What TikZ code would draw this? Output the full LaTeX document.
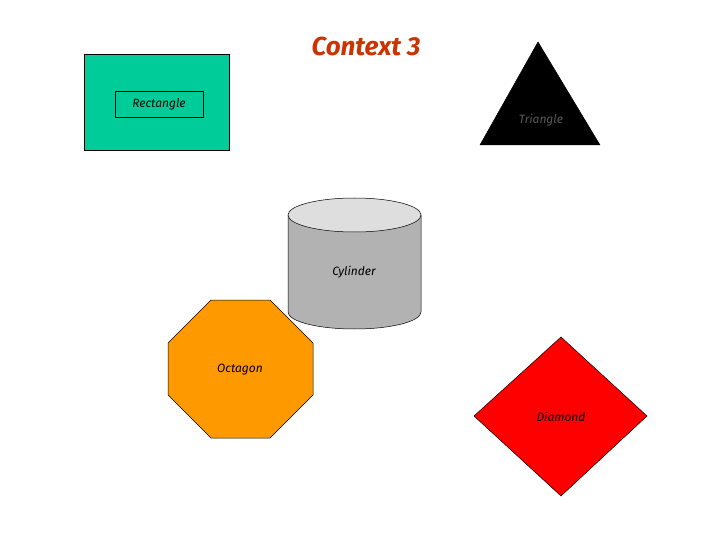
\documentclass[tikz,border=0pt]{standalone}
\usepackage{fontspec}
\setmainfont{Fira Sans}
\begin{document}
\begin{tikzpicture}[x=1pt,y=-1pt,
  lbl/.style={font=\itshape\fontsize{12}{14}\selectfont},
  shp/.style={draw=black,line width=0.5pt}]
\useasboundingbox (0,0) rectangle (720,540);
% title
\node (title)[text={rgb,255:red,204;green,51;blue,0},font=\bfseries\itshape\fontsize{26}{30}\selectfont] at (366,46) {Context 3};
% rectangle
\draw[shp,fill={rgb,255:red,0;green,204;blue,153}] (84,54) rectangle (229,150);
\node (rect)[lbl,shp,fill={rgb,255:red,0;green,204;blue,153},minimum width=88pt,minimum height=26pt,inner sep=0pt] at (159,104) {Rectangle};
% triangle
\draw[shp,fill=black] (538,42) -- (600,145) -- (480,145) -- cycle;
\node (tri)[lbl,text=black!65] at (541,120) {Triangle};
% cylinder
\fill[fill=black!30] (288,215) -- (288,312) arc[start angle=180,end angle=0,x radius=66.5,y radius=17] -- (421,215) -- cycle;
\draw[shp] (288,215) -- (288,312) arc[start angle=180,end angle=0,x radius=66.5,y radius=17] -- (421,215);
\draw[shp,fill=black!13] (354.5,215) ellipse[x radius=66.5,y radius=17];
\node (cyl)[lbl] at (354,272) {Cylinder};
% octagon
\draw[shp,fill={rgb,255:red,255;green,153;blue,0}] (211,300) -- (270,300) -- (313,343) -- (313,395) -- (270,438) -- (211,438) -- (168,395) -- (168,343) -- cycle;
\node (oct)[lbl] at (240,370) {Octagon};
% diamond
\draw[shp,fill=red] (561,337) -- (647,416) -- (561,496) -- (474,416) -- cycle;
\node (dia)[lbl] at (561,417) {Diamond};
\end{tikzpicture}
\end{document}
